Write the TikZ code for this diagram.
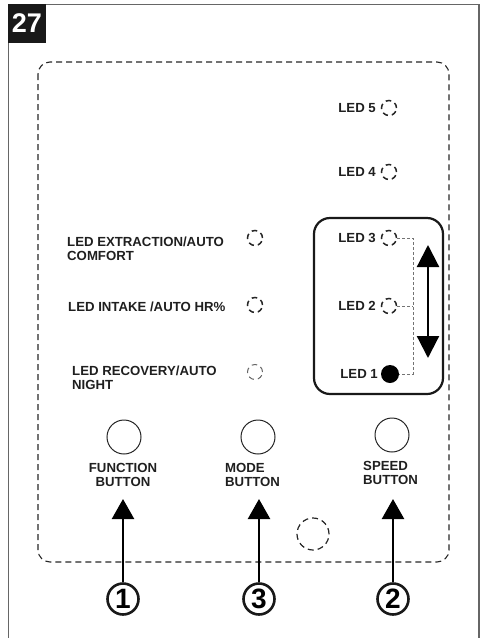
\documentclass[tikz,border=0pt]{standalone}
\usepackage{fontspec}
\setmainfont{Liberation Sans}
\usetikzlibrary{arrows.meta}
\tikzset{
  lbl/.style={font=\fontsize{13.2}{14.2}\selectfont\bfseries, inner sep=0pt, text=black!88},
  ledc/.style={circle, draw=black!85, line width=1.5pt, dash pattern=on 5.5pt off 4pt, minimum size=15pt, inner sep=0pt},
  btn/.style={circle, draw=black!85, line width=1pt, minimum size=34pt, inner sep=0pt},
  num/.style={circle, draw=black!90, line width=2.6pt, minimum size=31pt, inner sep=0pt, font=\fontsize{28}{28}\selectfont\bfseries},
  uparr/.style={line width=2.4pt, -{Triangle[width=22pt,length=20pt]}},
  guide/.style={draw=black!55, line width=0.8pt, dash pattern=on 2.5pt off 2.5pt},
}
\begin{document}
\begin{tikzpicture}[x=1pt,y=-1pt]
\useasboundingbox (0,0) rectangle (480,638);
% outer frame
\draw[black!60, line width=1.2pt] (8.5,638) -- (8.5,4.5) -- (479,4.5) -- (479,638);
\fill[black!90] (8,4) rectangle (46,43);
\node[text=white, font=\fontsize{27}{27}\selectfont\bfseries, inner sep=0pt] (fig) at (27,23.5) {27};
% dashed panel
\draw[black!85, line width=1.1pt, dash pattern=on 6pt off 4pt, rounded corners=12pt] (38,62) rectangle (449,562);
% right LEDs
\node[ledc] (l5) at (389,108) {};
\node[lbl, anchor=east] (t5) at (376,108) {LED 5};
\node[ledc] (l4) at (389,172) {};
\node[lbl, anchor=east] (t4) at (376,172) {LED 4};
% speed box
\draw[black!90, line width=2.2pt, rounded corners=16pt] (314,218) rectangle (443,394);
\node[ledc] (l3) at (389,238) {};
\node[lbl, anchor=east] (t3) at (376,238) {LED 3};
\node[ledc] (l2) at (389,306) {};
\node[lbl, anchor=east] (t2) at (376,306) {LED 2};
\node[circle, fill=black, minimum size=18pt, inner sep=0pt] (l1) at (390,374) {};
\node[lbl, anchor=east] (t1) at (378,374) {LED 1};
\coordinate (g3) at (413,238);
\coordinate (g2) at (413,306);
\coordinate (g1) at (413,374);
\draw[guide] (l3.east) -- (g3) -- (g1) -- (l1.east);
\draw[guide] (l2.east) -- (g2);
\coordinate (da) at (428,245);
\coordinate (db) at (428,358);
\draw[line width=2.2pt, {Triangle[width=22pt,length=22pt]}-{Triangle[width=22pt,length=22pt]}] (da) -- (db);
% left LEDs
\node[ledc] (la) at (255,238) {};
\node[lbl, anchor=west, align=left] (ta) at (67,249) {LED EXTRACTION/AUTO\\COMFORT};
\node[ledc] (lb) at (255,305) {};
\node[lbl, anchor=west] (tb) at (68,307) {LED INTAKE /AUTO HR\%};
\node[ledc, draw=black!60, line width=1pt] (lc) at (255,372) {};
\node[lbl, anchor=west, align=left] (tc) at (72,378) {LED RECOVERY/AUTO\\NIGHT};
% buttons
\node[btn] (bf) at (124,437) {};
\node[btn] (bm) at (258,437) {};
\node[btn] (bs) at (392,435) {};
\node[lbl, align=center] (tf) at (123,475) {FUNCTION\\BUTTON};
\node[lbl, align=left, anchor=west] (tm) at (225,475) {MODE\\BUTTON};
\node[lbl, align=left, anchor=west] (ts) at (363,473) {SPEED\\BUTTON};
% small dashed circle
\node[circle, draw=black!85, line width=1.2pt, dash pattern=on 6pt off 4pt, minimum size=32pt, inner sep=0pt] (dc) at (313,534) {};
% numbers and arrows
\node[num] (n1) at (123,599) {1};
\node[num] (n3) at (259,599) {3};
\node[num] (n2) at (393,599) {2};
\coordinate (a1) at (123,499);
\coordinate (a3) at (259,499);
\coordinate (a2) at (393,499);
\draw[uparr] (n1.north) -- (a1);
\draw[uparr] (n3.north) -- (a3);
\draw[uparr] (n2.north) -- (a2);
\end{tikzpicture}
\end{document}
